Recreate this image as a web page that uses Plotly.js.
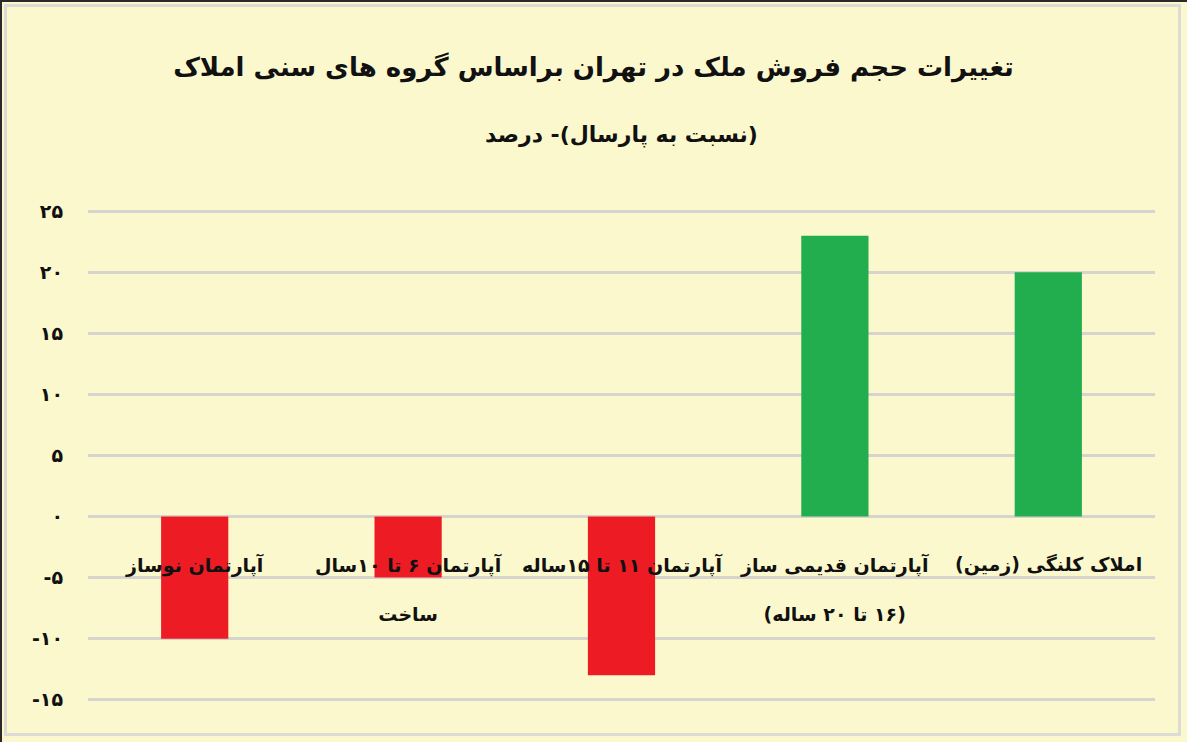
<!DOCTYPE html>
<html><head><meta charset="utf-8">
<script src="https://cdn.plot.ly/plotly-3.0.1.min.js"></script>
<style>
html,body{margin:0;padding:0;background:#fcf8cd;}
#wrap{position:relative;width:1187px;height:742px;}
#chart{position:absolute;left:0;top:0;width:1187px;height:742px;}
#frame{position:absolute;left:0;top:0;width:1187px;height:742px;box-sizing:border-box;border-left:2px solid #2a2a2a;border-top:2px solid #2a2a2a;pointer-events:none;}
#inner{position:absolute;left:4px;top:4px;width:1177px;height:732px;box-sizing:border-box;border:3px solid #dcdcd4;pointer-events:none;}
</style></head>
<body>
<div id="wrap"><div id="chart"></div><div id="frame"></div><div id="inner"></div></div>
<script>
const categories = ["c1","c2","c3","c4","c5"];
const categoryLabels = ["آپارتمان نوساز","آپارتمان ۶ تا ۱۰سال<br><br>ساخت","آپارتمان ۱۱ تا ۱۵ساله","آپارتمان قدیمی ساز<br><br>(۱۶ تا ۲۰ ساله)","املاک کلنگی (زمین)"];
const values = [-10, -5, -13, 23, 20];
const tickVals = [25, 20, 15, 10, 5, 0, -5, -10, -15];
const tickLabels = ["۲۵","۲۰","۱۵","۱۰","۵","۰","-۵","-۱۰","-۱۵"];
const titleText = "تغییرات حجم فروش ملک در تهران براساس گروه های سنی املاک";
const subtitleText = "(نسبت به پارسال)- درصد";

const FONT = "DejaVu Sans, Noto Sans, sans-serif";
const RLE = "\u202B", PDF = "\u202C";
const rtl = s => s.split("<br>").map(p => p ? RLE + p + PDF : p).join("<br>");
const colors = values.map(v => v < 0 ? "#ed1c24" : "#22ad4e");

const annotations = categories.map((c, i) => ({
  x: c, y: 0, xref: "x", yref: "y", yanchor: "top", xanchor: "center",
  yshift: -34, showarrow: false, text: "<b>" + rtl(categoryLabels[i]) + "</b>",
  font: {family: FONT, size: 19, color: "#111"}
}));
annotations.push({
  x: 0.5, y: 1.14, xref: "paper", yref: "paper", showarrow: false,
  text: "<b>" + rtl(subtitleText) + "</b>", font: {family: FONT, size: 22, color: "#111"}
});

const trace = {
  type: "bar", x: categories, y: values,
  marker: {color: colors, line: {width: 0}},
  hoverinfo: "skip"
};

const layout = {
  width: 1187, height: 742,
  paper_bgcolor: "#fcf8cd", plot_bgcolor: "#fcf8cd",
  margin: {l: 88, r: 32, t: 193, b: 24},
  bargap: 0.685,
  showlegend: false,
  title: {text: "<b>" + rtl(titleText) + "</b>", x: 0.5, xanchor: "center", y: 0.91, yanchor: "middle",
          font: {family: FONT, size: 26, color: "#111"}},
  xaxis: {showticklabels: false, showgrid: false, zeroline: false, showline: false, ticks: ""},
  yaxis: {range: [-16.5, 26.5], tickvals: tickVals, ticktext: tickLabels,
          showgrid: true, gridcolor: "#d6d4cc", gridwidth: 3, zeroline: false, showline: false,
          ticks: "", ticklabelstandoff: 24,
          tickfont: {family: FONT, size: 19, color: "#111", weight: "bold"}},
  annotations: annotations
};

Plotly.newPlot("chart", [trace], layout, {displayModeBar: false, staticPlot: true});
</script>
</body></html>
